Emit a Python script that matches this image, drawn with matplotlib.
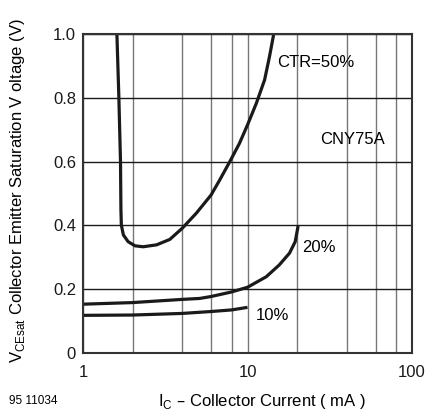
import numpy as np
import matplotlib.pyplot as plt

plt.rcParams['font.family'] = ['Liberation Sans', 'DejaVu Sans']

# CTR = 50 %
ctr50_ic = [1.607, 1.652, 1.69, 1.70, 1.71, 1.76, 1.88, 2.07, 2.32, 2.80, 3.37, 4.01,
            4.88, 6.0, 6.77, 7.77, 8.93, 10.0, 11.3, 12.7, 13.6, 14.4]
ctr50_v = [1.0, 0.8, 0.6, 0.45, 0.401, 0.370, 0.349, 0.336, 0.333, 0.339, 0.356, 0.391,
           0.438, 0.495, 0.542, 0.598, 0.657, 0.715, 0.782, 0.856, 0.929, 0.997]
# CTR = 20 %
ctr20_ic = [1.0, 2.0, 4.0, 5.12, 6.0, 7.95, 10.0, 13.0, 15.6, 18.0, 19.5, 20.3]
ctr20_v = [0.153, 0.158, 0.168, 0.171, 0.177, 0.191, 0.206, 0.239, 0.276, 0.313, 0.349, 0.398]
# CTR = 10 %
ctr10_ic = [1.0, 2.0, 4.0, 6.0, 8.0, 10.0]
ctr10_v = [0.118, 0.119, 0.124, 0.130, 0.135, 0.143]

fig = plt.figure(figsize=(4.29, 4.17), dpi=100)
ax = fig.add_axes([0.1935, 0.1535, 0.7669, 0.765])

for ic, v in [(ctr50_ic, ctr50_v), (ctr20_ic, ctr20_v), (ctr10_ic, ctr10_v)]:
    ax.plot(ic, v, color='#1a1a1a', lw=2.3, solid_capstyle='butt', solid_joinstyle='round')

ax.set_xscale('log')
ax.set_xlim(1, 100)
ax.set_ylim(0, 1.0)
ax.set_xticks([1, 10, 100])
ax.set_xticklabels(['1', '10', '100'])
ax.set_xticks([2, 4, 6, 8, 20, 40, 60, 80], minor=True)
ax.set_yticks([0, 0.2, 0.4, 0.6, 0.8, 1.0])
ax.set_yticklabels(['0', '0.2', '0.4', '0.6', '0.8', '1.0'])
ax.tick_params(which='both', length=0, labelsize=12, colors='#1a1a1a')
ax.tick_params(axis='x', pad=9)
ax.tick_params(axis='y', pad=5)

ax.grid(True, which='both', axis='x', color='#777777', lw=1.0)
ax.grid(True, which='major', axis='y', color='#1a1a1a', lw=1.0)
for t in ax.xaxis.get_minor_ticks():
    if t.get_loc() in (4, 6, 8):
        t.gridline.set_color('#1a1a1a')

for s in ax.spines.values():
    s.set_linewidth(1.5)
    s.set_color('#333333')

ax.text(15.2, 0.91, 'CTR=50%', fontsize=12, va='center')
ax.text(27.7, 0.668, 'CNY75A', fontsize=12, va='center')
ax.text(21.5, 0.33, '20%', fontsize=12, va='center')
ax.text(11.2, 0.119, '10%', fontsize=12, va='center')

fig.text(0.040, 0.542, r'V$_{\mathregular{CEsat}}$ Collector Emitter Saturation V oltage (V)',
         rotation=90, fontsize=12, ha='center', va='center')
fig.text(0.611, 0.038, r'I$_{\mathregular{C}}$ – Collector Current ( mA )',
         fontsize=12, ha='center', va='center')
fig.text(0.021, 0.038, '95 11034', fontsize=8.5, ha='left', va='center')

fig.savefig('out.png', dpi=100)
